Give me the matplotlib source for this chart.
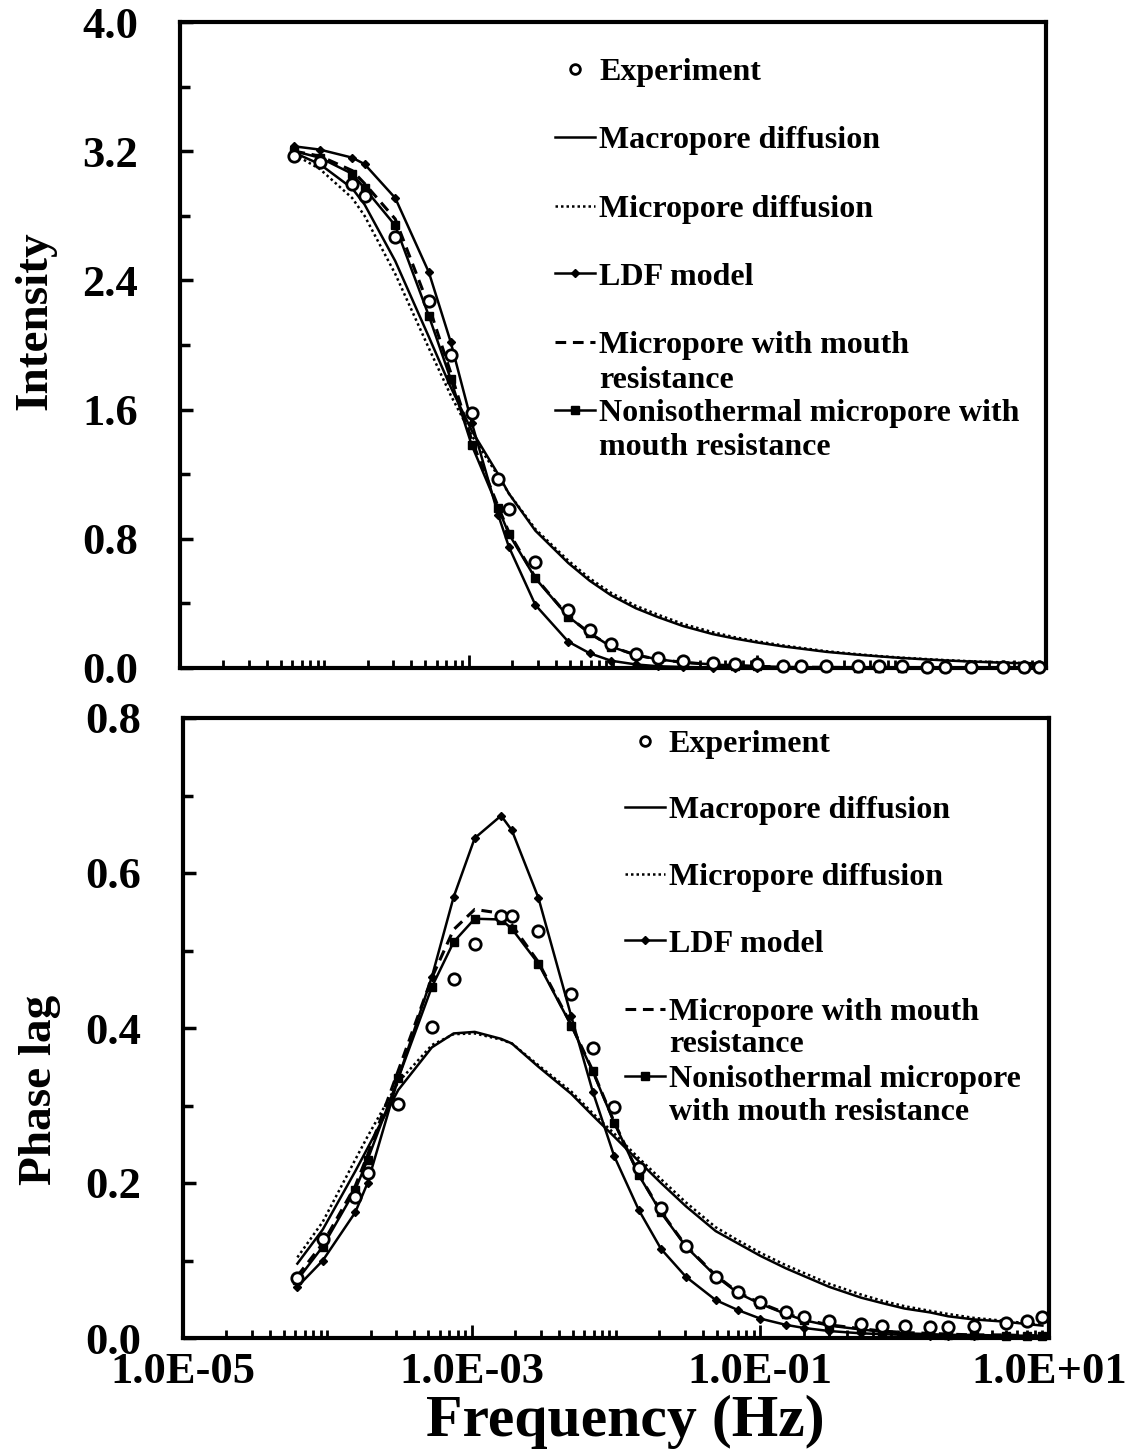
import numpy as np
import matplotlib
matplotlib.use("Agg")
import matplotlib.pyplot as plt
from matplotlib.lines import Line2D
from matplotlib.legend import Legend
from matplotlib import ticker, transforms

plt.rcParams['font.family'] = ['Liberation Serif', 'DejaVu Serif']
plt.rcParams['font.weight'] = 'bold'
plt.rcParams['mathtext.default'] = 'regular'

# ---------------- data ----------------
freq = [6.2e-5, 9.3e-5, 1.56e-4, 1.9e-4, 3.1e-4, 5.3e-4, 7.5e-4, 1.05e-3, 1.6e-3, 1.9e-3,
        2.9e-3, 4.9e-3, 6.9e-3, 9.7e-3, 0.0144, 0.0205, 0.0305, 0.049, 0.07, 0.1,
        0.15, 0.2, 0.3, 0.5, 0.7, 1.0, 1.5, 2.0, 3.0, 5.0, 7.0, 9.0]

# Intensity
int_exp = [3.17, 3.135, 3.0, 2.92, 2.67, 2.27, 1.94, 1.58, 1.17, 0.985,
           0.655, 0.36, 0.235, 0.147, 0.089, 0.06, 0.043, 0.03, 0.025, 0.025,
           0.015, 0.015, 0.012, 0.01, 0.01, 0.01, 0.008, 0.008, 0.006, 0.006, 0.006, 0.006]
int_macro = [3.19, 3.12, 2.97, 2.87, 2.52, 2.05, 1.74, 1.47, 1.20, 1.08,
             0.85, 0.65, 0.54, 0.45, 0.37, 0.315, 0.26, 0.21, 0.182, 0.158,
             0.134, 0.12, 0.10, 0.082, 0.072, 0.062, 0.053, 0.047, 0.04, 0.033, 0.029, 0.026]
int_micro = [3.18, 3.09, 2.91, 2.80, 2.44, 1.98, 1.69, 1.44, 1.19, 1.08,
             0.86, 0.665, 0.555, 0.465, 0.385, 0.33, 0.273, 0.222, 0.19, 0.165,
             0.14, 0.125, 0.104, 0.085, 0.074, 0.064, 0.055, 0.049, 0.042, 0.035, 0.031, 0.028]
int_ldf = [3.23, 3.21, 3.16, 3.12, 2.91, 2.45, 2.02, 1.52, 0.95, 0.75,
           0.39, 0.163, 0.091, 0.045, 0.022, 0.011, 0.006, 0.003, 0.002, 0.001,
           0.001, 0.0, 0.0, 0.0, 0.0, 0.0, 0.0, 0.0, 0.0, 0.0, 0.0, 0.0]
int_mouth = [3.2, 3.17, 3.08, 3.0, 2.78, 2.24, 1.83, 1.41, 1.0, 0.84,
             0.56, 0.32, 0.215, 0.133, 0.08, 0.054, 0.035, 0.022, 0.015, 0.01,
             0.007, 0.005, 0.004, 0.003, 0.002, 0.002, 0.001, 0.001, 0.001, 0.001, 0.0, 0.0]
int_noniso = [3.2, 3.16, 3.06, 2.97, 2.74, 2.18, 1.79, 1.38, 0.99, 0.83,
              0.555, 0.318, 0.215, 0.132, 0.08, 0.054, 0.035, 0.022, 0.015, 0.01,
              0.007, 0.005, 0.004, 0.003, 0.002, 0.002, 0.001, 0.001, 0.001, 0.001, 0.0, 0.0]

# Phase lag
ph_exp = [0.078, 0.128, 0.182, 0.213, 0.302, 0.401, 0.463, 0.509, 0.544, 0.545,
          0.525, 0.444, 0.374, 0.298, 0.219, 0.168, 0.119, 0.079, 0.060, 0.046,
          0.033, 0.0275, 0.022, 0.018, 0.016, 0.015, 0.014, 0.014, 0.015, 0.019, 0.022, 0.0275]
ph_macro = [0.096, 0.14, 0.215, 0.245, 0.32, 0.375, 0.393, 0.395, 0.386, 0.38,
            0.35, 0.315, 0.287, 0.26, 0.228, 0.2, 0.17, 0.138, 0.122, 0.106,
            0.09, 0.08, 0.066, 0.052, 0.045, 0.038, 0.033, 0.028, 0.024, 0.021, 0.018, 0.016]
ph_micro = [0.104, 0.15, 0.23, 0.26, 0.33, 0.378, 0.392, 0.393, 0.385, 0.38,
            0.352, 0.318, 0.29, 0.264, 0.232, 0.205, 0.175, 0.143, 0.126, 0.11,
            0.094, 0.084, 0.07, 0.056, 0.048, 0.041, 0.035, 0.031, 0.026, 0.022, 0.019, 0.017]
ph_ldf = [0.066, 0.10, 0.162, 0.20, 0.335, 0.466, 0.569, 0.645, 0.674, 0.655,
          0.568, 0.415, 0.318, 0.235, 0.165, 0.115, 0.079, 0.049, 0.036, 0.025,
          0.017, 0.013, 0.009, 0.006, 0.005, 0.004, 0.003, 0.003, 0.002, 0.002, 0.002, 0.002]
ph_mouth = [0.08, 0.122, 0.196, 0.236, 0.345, 0.465, 0.527, 0.553, 0.548, 0.533,
            0.485, 0.404, 0.345, 0.279, 0.211, 0.163, 0.119, 0.081, 0.059, 0.045,
            0.032, 0.024, 0.017, 0.012, 0.009, 0.007, 0.006, 0.005, 0.004, 0.004, 0.003, 0.003]
ph_noniso = [0.075, 0.118, 0.191, 0.23, 0.335, 0.453, 0.511, 0.541, 0.54, 0.528,
             0.483, 0.403, 0.344, 0.278, 0.21, 0.162, 0.118, 0.08, 0.058, 0.044,
             0.031, 0.023, 0.016, 0.011, 0.008, 0.006, 0.005, 0.004, 0.004, 0.003, 0.003, 0.003]

x_ticks = [1e-5, 1e-3, 1e-1, 1e1]
labels = ["Experiment", "Macropore diffusion", "Micropore diffusion", "LDF model",
          "Micropore with mouth", "Nonisothermal micropore with"]

# ---------------- styles ----------------
styles = {
    'exp': dict(ls='none', marker='o', ms=8.2, mfc='white', mec='black', mew=2.0, zorder=6),
    'macro': dict(ls='-', color='black', lw=1.8, zorder=3),
    'micro': dict(ls=(0, (1, 1.2)), color='black', lw=1.8, zorder=3),
    'ldf': dict(ls='-', color='black', lw=1.8, marker='D', ms=4.4, zorder=4),
    'mouth': dict(ls=(0, (3.5, 2.2)), color='black', lw=2.2, zorder=4),
    'noniso': dict(ls='-', color='black', lw=1.8, marker='s', ms=5.2, zorder=5),
}

W, H = 1134, 1456
fig = plt.figure(figsize=(W / 100, H / 100), dpi=100)
ax1 = fig.add_axes([180 / W, 1 - 668 / H, 866 / W, 646 / H])
ax2 = fig.add_axes([183 / W, 1 - 1338 / H, 866 / W, 620 / H])

TICKFS = 32
LEGFS = 23


def setup(ax, ymax, ymaj, ymin, show_x):
    ax.set_xscale('log')
    ax.set_xlim(1e-5, 1e1)
    ax.set_ylim(0, ymax)
    ax.xaxis.set_major_locator(ticker.FixedLocator(x_ticks))
    ax.xaxis.set_minor_locator(ticker.LogLocator(base=10, subs=np.arange(1, 10), numticks=100))
    ax.xaxis.set_major_formatter(ticker.FuncFormatter(lambda v, p: f"{v:.1E}"))
    ax.xaxis.set_minor_formatter(ticker.NullFormatter())
    ax.yaxis.set_major_locator(ticker.MultipleLocator(ymaj))
    ax.yaxis.set_minor_locator(ticker.MultipleLocator(ymin))
    ax.yaxis.set_major_formatter(ticker.FormatStrFormatter('%.1f'))
    for s in ax.spines.values():
        s.set_linewidth(3.0)
    ax.tick_params(axis='both', which='both', direction='in', top=False, right=False, color='black')
    ax.tick_params(axis='x', which='major', length=9.5, width=2.0, labelsize=TICKFS, pad=10,
                   labelbottom=show_x)
    ax.tick_params(axis='x', which='minor', length=6, width=2.0)
    ax.tick_params(axis='y', which='major', length=9.5, width=2.5, labelsize=TICKFS, pad=30)
    ax.tick_params(axis='y', which='minor', length=7.5, width=2.5)
    for lab in ax.get_xticklabels() + ax.get_yticklabels():
        lab.set_fontweight('bold')


setup(ax1, 4.0, 0.8, 0.4, False)
setup(ax2, 0.8, 0.2, 0.1, True)

# curves
ax1.plot(freq, int_macro, **styles['macro'])
ax1.plot(freq, int_micro, **styles['micro'])
ax1.plot(freq, int_ldf, **styles['ldf'])
ax1.plot(freq, int_mouth, **styles['mouth'])
ax1.plot(freq, int_noniso, **styles['noniso'])
ax1.plot(freq, int_exp, **styles['exp'])

ax2.plot(freq, ph_macro, **styles['macro'])
ax2.plot(freq, ph_micro, **styles['micro'])
ax2.plot(freq, ph_ldf, **styles['ldf'])
ax2.plot(freq, ph_mouth, **styles['mouth'])
ax2.plot(freq, ph_noniso, **styles['noniso'])
ax2.plot(freq, ph_exp, **styles['exp'])

for ax in (ax1, ax2):
    for line in ax.get_lines():
        line.set_clip_on(False)

# legends (one entry each so spacing can follow the reference)
keys = ['exp', 'macro', 'micro', 'ldf', 'mouth', 'noniso']
HL, HTP = 1.26, 0.12


def add_legend(ax, x0, ys, y_extra, extra_texts):
    for k, lab, y in zip(keys, labels, ys):
        st = dict(styles[k])
        st.pop('zorder', None)
        if k == 'exp':
            st['ms'] = 7.0
        h = Line2D([], [], **st)
        lg = Legend(ax, [h], [lab], loc='center left', bbox_to_anchor=(x0, y),
                    bbox_transform=ax.transAxes, frameon=False, borderpad=0,
                    borderaxespad=0, handlelength=HL, handletextpad=HTP,
                    prop=dict(size=LEGFS, weight='bold'), numpoints=1)
        ax.add_artist(lg)
    off = transforms.ScaledTranslation((HL + HTP) * LEGFS / 72.0, 0, fig.dpi_scale_trans)
    for txt, y in zip(extra_texts, y_extra):
        ax.text(x0, y, txt, transform=ax.transAxes + off, ha='left', va='center',
                fontsize=LEGFS, fontweight='bold')


add_legend(ax1, 0.433, [0.9226, 0.8173, 0.7105, 0.6053, 0.500, 0.3947],
           [0.4458, 0.3406], ["resistance", "mouth resistance"])
labels[5] = "Nonisothermal micropore"
add_legend(ax2, 0.510, [0.958, 0.8516, 0.7435, 0.6355, 0.5258, 0.4177],
           [0.4726, 0.3645], ["resistance", "with mouth resistance"])

fig.text(35 / W, 1 - 321 / H, "Intensity", rotation=90, ha='center', va='center',
         fontsize=34, fontweight='bold')
fig.text(40 / W, 1 - 1090 / H, "Phase lag", rotation=90, ha='center', va='center',
         fontsize=34, fontweight='bold')
fig.text(625 / W, 1 - 1422 / H, "Frequency (Hz)", ha='center', va='center',
         fontsize=43, fontweight='bold')

fig.savefig("out.png", dpi=100)
